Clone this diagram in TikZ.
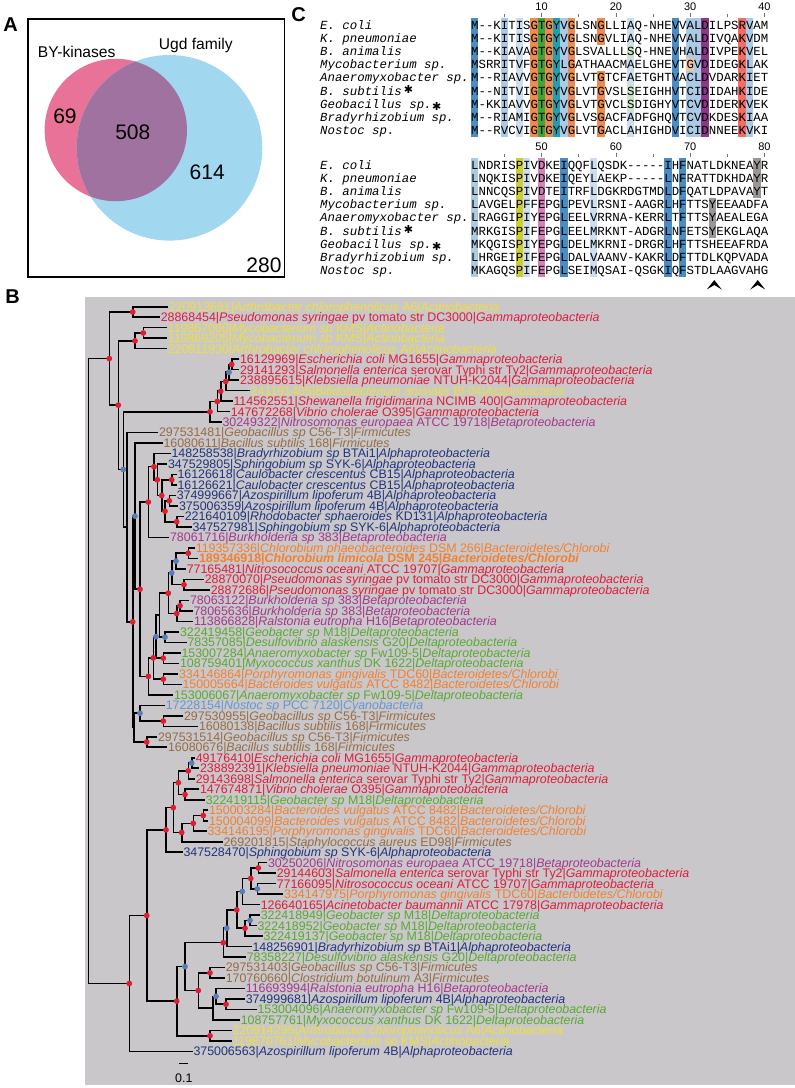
\documentclass[tikz,border=0pt]{standalone}
\usepackage{fontspec}
\setmainfont{Liberation Sans}
\setmonofont{Liberation Mono}
\newfontfamily\dejavu{DejaVu Sans}
\usetikzlibrary{calc}
\pgfdeclarelayer{fg}
\pgfsetlayers{main,fg}
% Venn
\definecolor{cPink}{RGB}{233,114,152}
\definecolor{cSky}{RGB}{162,215,240}
\definecolor{cPurp}{RGB}{160,114,160}
% taxa
\definecolor{cAct}{RGB}{238,224,60}
\definecolor{cGam}{RGB}{222,28,58}
\definecolor{cBet}{RGB}{165,55,140}
\definecolor{cFir}{RGB}{150,108,70}
\definecolor{cAlp}{RGB}{32,52,125}
\definecolor{cBac}{RGB}{242,128,48}
\definecolor{cDel}{RGB}{88,170,48}
\definecolor{cCya}{RGB}{100,150,210}
\definecolor{cTree}{RGB}{201,199,202}
\definecolor{cRdot}{RGB}{222,30,50}
\definecolor{cBdot}{RGB}{90,125,185}
% alignment
\definecolor{hMB}{RGB}{75,140,195}
\definecolor{hLB}{RGB}{170,202,230}
\definecolor{hPB}{RGB}{205,222,240}
\definecolor{hPG}{RGB}{205,228,200}
\definecolor{hOr}{RGB}{236,140,78}
\definecolor{hPe}{RGB}{245,195,160}
\definecolor{hGr}{RGB}{60,165,60}
\definecolor{hTe}{RGB}{30,160,175}
\definecolor{hPu}{RGB}{140,55,135}
\definecolor{hRe}{RGB}{240,110,100}
\definecolor{hYe}{RGB}{205,205,50}
\definecolor{hPk}{RGB}{210,130,185}
\definecolor{hGy}{RGB}{155,150,150}
\newcommand\lbfont{\fontsize{12.4}{12.4}\selectfont}
\newcommand\tleaf[7]{\node[lbl,text=#3] (L#1) at (#2,{306.7+(#1-1)*10.49}) {#4|\textit{#5} #6|\textit{#7}};}
\newcommand\tbr[5]{%
  \coordinate (#1m) at ($(#3)!0.5!(#4)$);
  \coordinate (#1x) at (#2,0);
  \coordinate (#1) at (#1x |- #1m);
  \draw[brl] (#3) -| (#1) |- (#4);
  \begin{pgfonlayer}{fg}\path[#5] (#1) circle[radius=2.9pt];\end{pgfonlayer}}
\newcommand\hlc[5]{\fill[#1] ({471+(#2-1)*7.43},{#3+(#4-1)*13.2}) rectangle ({471+#2*7.43},{#3+#5*13.2});}
\begin{document}
\begin{tikzpicture}[x=1pt,y=-1pt,
  lbl/.style={anchor=west,inner xsep=0.6pt,inner ysep=0pt,font=\lbfont,text height=8.8pt,text depth=0pt},
  brl/.style={line width=1.6pt},
  rd/.style={fill=cRdot},
  bd/.style={fill=cBdot},
  nd/.style={},
  panel/.style={font=\fontsize{20}{20}\selectfont\bfseries,inner sep=0pt},
  seqt/.style={anchor=base west,inner sep=0pt,font=\ttfamily\fontsize{12.38}{12.38}\selectfont},
  namt/.style={anchor=base west,inner sep=0pt,font=\ttfamily\itshape\fontsize{12.38}{12.38}\selectfont},
  rul/.style={anchor=base,inner sep=0pt,font=\fontsize{11}{11}\selectfont},
  rtick/.style={line width=0.6pt,draw=black!55},
  star/.style={inner sep=0pt,font=\dejavu\fontsize{11}{11}\selectfont}]
\useasboundingbox (0,0) rectangle (795,1088);

% ================= Panel A =================
\node[panel] (labA) at (10.5,25) {A};
\fill[cPink] (115.8,130) circle[radius=71.2pt];
\fill[cSky] (169.5,147.8) circle[radius=92.8pt];
\begin{scope}
  \clip (115.8,130) circle[radius=71.2pt];
  \fill[cPurp] (169.5,147.8) circle[radius=92.8pt];
\end{scope}
\draw[line width=1.8pt] (28.3,19) rectangle (284.5,277);
\node[anchor=base,inner sep=0pt,font=\fontsize{15.6}{15.6}\selectfont] (tBY) at (76.7,57.3) {BY-kinases};
\node[anchor=base,inner sep=0pt,font=\fontsize{15.6}{15.6}\selectfont] (tUgd) at (195.8,49.3) {Ugd family};
\node[anchor=base,inner sep=0pt,font=\fontsize{21}{21}\selectfont] (n69) at (65,123.3) {69};
\node[anchor=base,inner sep=0pt,font=\fontsize{21}{21}\selectfont] (n508) at (132.8,139.3) {508};
\node[anchor=base,inner sep=0pt,font=\fontsize{21}{21}\selectfont] (n614) at (207.2,179.3) {614};
\node[anchor=base,inner sep=0pt,font=\fontsize{21}{21}\selectfont] (n280) at (264,272.5) {280};

% ================= Panel C =================
\node[panel] (labC) at (298.5,15) {C};
% highlights, top block (y0 = 18.4)
\hlc{hMB}{1}{18.4}{1}{9}
\hlc{hLB}{5}{18.4}{1}{9}
\hlc{hPB}{7}{18.4}{1}{9}
\hlc{hOr}{9}{18.4}{1}{9}
\hlc{hGr}{10}{18.4}{1}{9}
\hlc{hOr}{11}{18.4}{1}{9}
\hlc{hTe}{12}{18.4}{1}{9}
\hlc{hLB}{13}{18.4}{1}{9}
\hlc{hOr}{14}{18.4}{1}{9}
\hlc{hOr}{18}{18.4}{1}{2}
\hlc{hOr}{18}{18.4}{5}{9}
\hlc{hPB}{22}{18.4}{1}{2}
\hlc{hPG}{22}{18.4}{3}{3}
\hlc{hPB}{22}{18.4}{4}{5}
\hlc{hPG}{22}{18.4}{6}{7}
\hlc{hPB}{22}{18.4}{8}{9}
\hlc{hMB}{28}{18.4}{1}{9}
\hlc{hLB}{30}{18.4}{1}{3}
\hlc{hPe}{30}{18.4}{4}{4}
\hlc{hLB}{30}{18.4}{5}{9}
\hlc{hLB}{31}{18.4}{1}{9}
\hlc{hPu}{32}{18.4}{1}{9}
\hlc{hRe}{37}{18.4}{1}{9}
\hlc{hLB}{38}{18.4}{1}{9}
% highlights, bottom block (y0 = 158.4)
\hlc{hLB}{1}{158.4}{1}{9}
\hlc{hYe}{7}{158.4}{1}{9}
\hlc{hPB}{8}{158.4}{1}{9}
\hlc{hPk}{10}{158.4}{1}{9}
\hlc{hMB}{13}{158.4}{1}{9}
\hlc{hPB}{17}{158.4}{1}{9}
\hlc{hMB}{27}{158.4}{1}{9}
\hlc{hMB}{29}{158.4}{1}{9}
\hlc{hGy}{33}{158.4}{4}{6}
\hlc{hGy}{39}{158.4}{1}{3}
% rulers
\foreach \c in {5,15,25,35} {
  \draw[rtick] ({471+(\c-0.5)*7.43},14) -- ++(0,2.8);
  \draw[rtick] ({471+(\c-0.5)*7.43},154) -- ++(0,2.8);
}
\foreach \c/\na/\nb in {10/10/50,20/20/60,30/30/70,40/40/80} {
  \draw[rtick] ({471+(\c-0.5)*7.43},12.5) -- ++(0,4.3);
  \draw[rtick] ({471+(\c-0.5)*7.43},152.5) -- ++(0,4.3);
  \node[rul] (rt\na) at ({471+(\c-0.5)*7.43},10) {\na};
  \node[rul] (rb\nb) at ({471+(\c-0.5)*7.43},150) {\nb};
}
% names
\foreach \nm [count=\k from 0] in {E. coli,K. pneumoniae,B. animalis,Mycobacterium sp.,Anaeromyxobacter sp.,B. subtilis,Geobacillus sp.,Bradyrhizobium sp.,Nostoc sp.} {
  \node[namt] (nt\k) at (320,{29+\k*13.2}) {\nm};
  \node[namt] (nb\k) at (320,{169+\k*13.2}) {\nm};
}
\node[star] (s1) at (408.5,89.5) {✱};
\node[star] (s2) at (436.8,106) {✱};
\node[star] (s3) at (408.5,229.5) {✱};
\node[star] (s4) at (436.8,246) {✱};
% sequences
\foreach \s [count=\k from 0] in {%
M--KITISGTGYVGLSNGLLIAQ-NHEVVALDILPSRVAM,
M--KITISGTGYVGLSNGVLIAQ-NHEVVALDIVQAKVDM,
M--KIAVAGTGYVGLSVALLLSQ-HNEVHALDIVPEKVEL,
MSRRITVFGTGYLGATHAACMAELGHEVTGVDIDEGKLAK,
M--RIAVVGTGYVGLVTGTCFAETGHTVACLDVDARKIET,
M--NITVIGTGYVGLVTGVSLSEIGHHVTCIDIDAHKIDE,
M-KKIAVVGTGYVGLVTGVCLSDIGHYVTCVDIDERKVEK,
M--RIAMIGTGYVGLVSGACFADFGHQVTCVDKDESKIAA,
M--RVCVIGTGYVGLVTGACLAHIGHDVICIDNNEEKVKI} {
  \node[seqt] (st\k) at (471,{29+\k*13.2}) {\s};
}
\foreach \s [count=\k from 0] in {%
LNDRISPIVDKEIQQFLQSDK-----IHFNATLDKNEAYR,
LNQKISPIVDKEIQEYLAEKP-----LNFRATTDKHDAYR,
LNNCQSPIVDTEITRFLDGKRDGTMDLDFQATLDPAVAYT,
LAVGELPFFEPGLPEVLRSNI-AAGRLHFTTSYEEAADFA,
LRAGGIPIYEPGLEELVRRNA-KERRLTFTTSYAEALEGA,
MRKGISPIFEPGLEELMRKNT-ADGRLNFETSYEKGLAQA,
MKQGISPIYEPGLDELMKRNI-DRGRLHFTTSHEEAFRDA,
LHRGEIPIFEPGLDALVAANV-KAKRLDFTTDLKQPVADA,
MKAGQSPIFEPGLSEIMQSAI-QSGKIQFSTDLAAGVAHG} {
  \node[seqt] (sb\k) at (471,{169+\k*13.2}) {\s};
}
% carets
\fill (714.3,280) -- (721.8,289.5) -- (714.3,285) -- (706.8,289.5) -- cycle;
\fill (757.7,280) -- (765.2,289.5) -- (757.7,285) -- (750.2,289.5) -- cycle;

% ================= Panel B =================
\node[panel] (labB) at (12.5,297) {B};
\fill[cTree] (85,296.7) rectangle (795,1085);

\tleaf{1}{168}{cAct}{220913681}{Arthrobacter chlorophenolicus}{A6}{Actinobacteria}
\tleaf{2}{160}{cGam}{28868454}{Pseudomonas syringae}{pv tomato str DC3000}{Gammaproteobacteria}
\tleaf{3}{167}{cAct}{119867000}{Mycobacterium sp}{KMS}{Actinobacteria}
\tleaf{4}{167}{cAct}{119869205}{Mycobacterium sp}{KMS}{Actinobacteria}
\tleaf{5}{167}{cAct}{220911930}{Arthrobacter chlorophenolicus}{A6}{Actinobacteria}
\tleaf{6}{239.3}{cGam}{16129969}{Escherichia coli}{MG1655}{Gammaproteobacteria}
\tleaf{7}{239.3}{cGam}{29141293}{Salmonella enterica}{serovar Typhi str Ty2}{Gammaproteobacteria}
\tleaf{8}{239.3}{cGam}{238895615}{Klebsiella pneumoniae}{NTUH-K2044}{Gammaproteobacteria}
\tleaf{9}{250}{cAct}{241191405}{Bifidobacterium animalis}{Bl-04}{Actinobacteria}
\tleaf{10}{232.7}{cGam}{114562551}{Shewanella frigidimarina}{NCIMB 400}{Gammaproteobacteria}
\tleaf{11}{230}{cGam}{147672268}{Vibrio cholerae}{O395}{Gammaproteobacteria}
\tleaf{12}{221.7}{cBet}{30249322}{Nitrosomonas europaea}{ATCC 19718}{Betaproteobacteria}
\tleaf{13}{158.3}{cFir}{297531481}{Geobacillus sp}{C56-T3}{Firmicutes}
\tleaf{14}{162.7}{cFir}{16080611}{Bacillus subtilis}{168}{Firmicutes}
\tleaf{15}{170.7}{cAlp}{148258538}{Bradyrhizobium sp}{BTAi1}{Alphaproteobacteria}
\tleaf{16}{167.3}{cAlp}{347529805}{Sphingobium sp}{SYK-6}{Alphaproteobacteria}
\tleaf{17}{176.7}{cAlp}{16126618}{Caulobacter crescentus}{CB15}{Alphaproteobacteria}
\tleaf{18}{176.7}{cAlp}{16126621}{Caulobacter crescentus}{CB15}{Alphaproteobacteria}
\tleaf{19}{176}{cAlp}{374999667}{Azospirillum lipoferum}{4B}{Alphaproteobacteria}
\tleaf{20}{178.3}{cAlp}{375006359}{Azospirillum lipoferum}{4B}{Alphaproteobacteria}
\tleaf{21}{184}{cAlp}{221640109}{Rhodobacter sphaeroides}{KD131}{Alphaproteobacteria}
\tleaf{22}{191.7}{cAlp}{347527981}{Sphingobium sp}{SYK-6}{Alphaproteobacteria}
\tleaf{23}{169.3}{cBet}{78061716}{Burkholderia sp}{383}{Betaproteobacteria}
\tleaf{24}{195}{cBac}{119357336}{Chlorobium phaeobacteroides}{DSM 266}{Bacteroidetes/Chlorobi}
\node[lbl,text=cBac,font=\lbfont\bfseries] (L25) at (198.3,{306.7+24*10.49}) {189346918|\textit{Chlorobium limicola} DSM 245|\textit{Bacteroidetes/Chlorobi}};
\tleaf{26}{186}{cGam}{77165481}{Nitrosococcus oceani}{ATCC 19707}{Gammaproteobacteria}
\tleaf{27}{204}{cGam}{28870070}{Pseudomonas syringae}{pv tomato str DC3000}{Gammaproteobacteria}
\tleaf{28}{210}{cGam}{28872686}{Pseudomonas syringae}{pv tomato str DC3000}{Gammaproteobacteria}
\tleaf{29}{189.3}{cBet}{78063122}{Burkholderia sp}{383}{Betaproteobacteria}
\tleaf{30}{192.7}{cBet}{78065636}{Burkholderia sp}{383}{Betaproteobacteria}
\tleaf{31}{193.3}{cBet}{113866828}{Ralstonia eutropha}{H16}{Betaproteobacteria}
\tleaf{32}{179.3}{cDel}{322419458}{Geobacter sp}{M18}{Deltaproteobacteria}
\tleaf{33}{186.7}{cDel}{78357085}{Desulfovibrio alaskensis}{G20}{Deltaproteobacteria}
\tleaf{34}{180.7}{cDel}{153007284}{Anaeromyxobacter sp}{Fw109-5}{Deltaproteobacteria}
\tleaf{35}{179.3}{cDel}{108759401}{Myxococcus xanthus}{DK 1622}{Deltaproteobacteria}
\tleaf{36}{178.3}{cBac}{334146864}{Porphyromonas gingivalis}{TDC60}{Bacteroidetes/Chlorobi}
\tleaf{37}{181.7}{cBac}{150005664}{Bacteroides vulgatus}{ATCC 8482}{Bacteroidetes/Chlorobi}
\tleaf{38}{173.3}{cDel}{153006067}{Anaeromyxobacter sp}{Fw109-5}{Deltaproteobacteria}
\tleaf{39}{165}{cCya}{17228154}{Nostoc sp}{PCC 7120}{Cyanobacteria}
\tleaf{40}{183.3}{cFir}{297530955}{Geobacillus sp}{C56-T3}{Firmicutes}
\tleaf{41}{198.3}{cFir}{16080138}{Bacillus subtilis}{168}{Firmicutes}
\tleaf{42}{157.3}{cFir}{297531514}{Geobacillus sp}{C56-T3}{Firmicutes}
\tleaf{43}{167.3}{cFir}{16080676}{Bacillus subtilis}{168}{Firmicutes}
\tleaf{44}{195}{cGam}{49176410}{Escherichia coli}{MG1655}{Gammaproteobacteria}
\tleaf{45}{199.3}{cGam}{238892391}{Klebsiella pneumoniae}{NTUH-K2044}{Gammaproteobacteria}
\tleaf{46}{195}{cGam}{29143698}{Salmonella enterica}{serovar Typhi str Ty2}{Gammaproteobacteria}
\tleaf{47}{199.3}{cGam}{147674871}{Vibrio cholerae}{O395}{Gammaproteobacteria}
\tleaf{48}{205}{cDel}{322419115}{Geobacter sp}{M18}{Deltaproteobacteria}
\tleaf{49}{208.3}{cBac}{150003284}{Bacteroides vulgatus}{ATCC 8482}{Bacteroidetes/Chlorobi}
\tleaf{50}{208.3}{cBac}{150004099}{Bacteroides vulgatus}{ATCC 8482}{Bacteroidetes/Chlorobi}
\tleaf{51}{206.7}{cBac}{334146195}{Porphyromonas gingivalis}{TDC60}{Bacteroidetes/Chlorobi}
\tleaf{52}{222.7}{cFir}{269201815}{Staphylococcus aureus}{ED98}{Firmicutes}
\tleaf{53}{182.7}{cAlp}{347528470}{Sphingobium sp}{SYK-6}{Alphaproteobacteria}
\tleaf{54}{267.3}{cBet}{30250206}{Nitrosomonas europaea}{ATCC 19718}{Betaproteobacteria}
\tleaf{55}{276}{cGam}{29144603}{Salmonella enterica}{serovar Typhi str Ty2}{Gammaproteobacteria}
\tleaf{56}{276}{cGam}{77166095}{Nitrosococcus oceani}{ATCC 19707}{Gammaproteobacteria}
\tleaf{57}{283.3}{cBac}{334147975}{Porphyromonas gingivalis}{TDC60}{Bacteroidetes/Chlorobi}
\tleaf{58}{260}{cGam}{126640165}{Acinetobacter baumannii}{ATCC 17978}{Gammaproteobacteria}
\tleaf{59}{260}{cDel}{322418949}{Geobacter sp}{M18}{Deltaproteobacteria}
\tleaf{60}{256.7}{cDel}{322418952}{Geobacter sp}{M18}{Deltaproteobacteria}
\tleaf{61}{262.7}{cDel}{322419137}{Geobacter sp}{M18}{Deltaproteobacteria}
\tleaf{62}{251.7}{cAlp}{148256901}{Bradyrhizobium sp}{BTAi1}{Alphaproteobacteria}
\tleaf{63}{246}{cDel}{78358227}{Desulfovibrio alaskensis}{G20}{Deltaproteobacteria}
\tleaf{64}{225}{cFir}{297531403}{Geobacillus sp}{C56-T3}{Firmicutes}
\tleaf{65}{225}{cFir}{170760660}{Clostridium botulinum}{A3}{Firmicutes}
\tleaf{66}{245}{cBet}{116693994}{Ralstonia eutropha}{H16}{Betaproteobacteria}
\tleaf{67}{245}{cAlp}{374999681}{Azospirillum lipoferum}{4B}{Alphaproteobacteria}
\tleaf{68}{256.7}{cDel}{153004096}{Anaeromyxobacter sp}{Fw109-5}{Deltaproteobacteria}
\tleaf{69}{240}{cDel}{108757761}{Myxococcus xanthus}{DK 1622}{Deltaproteobacteria}
\tleaf{70}{231.7}{cAct}{220914295}{Arthrobacter chlorophenolicus}{A6}{Actinobacteria}
\tleaf{71}{231.7}{cAct}{119870761}{Mycobacterium sp}{KMS}{Actinobacteria}
\tleaf{72}{192.7}{cAlp}{375006563}{Azospirillum lipoferum}{4B}{Alphaproteobacteria}

% ---- upper part of the tree
\tbr{N1}{132.7}{L1.west}{L2.west}{rd}
\tbr{N3}{143.3}{L3.west}{L4.west}{rd}
\tbr{N4}{135}{N3}{L5.west}{rd}
\tbr{g1}{231.7}{L6.west}{L7.west}{rd}
\tbr{g2}{229}{g1}{L8.west}{bd}
\tbr{g3}{225.7}{g2}{L9.west}{rd}
\tbr{g4}{220.7}{g3}{L10.west}{rd}
\tbr{g5}{217.3}{g4}{L11.west}{rd}
\tbr{g6}{210}{g5}{L12.west}{rd}
\tbr{pa}{171.7}{L17.west}{L18.west}{rd}
\tbr{a1}{169.3}{L19.west}{L20.west}{rd}
\tbr{a2}{176.7}{L21.west}{L22.west}{rd}
\tbr{a3}{165}{a1}{a2}{rd}
\tbr{a4}{161.7}{pa}{a3}{rd}
\tbr{a5}{157.3}{L16.west}{a4}{rd}
\tbr{a6}{154}{L15.west}{a5}{rd}
\tbr{a7}{148.3}{a6}{L23.west}{rd}
\tbr{pb}{188.3}{L24.west}{L25.west}{rd}
\tbr{chA}{176}{pb}{L26.west}{bd}
\tbr{pc}{184}{L27.west}{L28.west}{rd}
\tbr{chl}{171.7}{chA}{pc}{bd}
\tbr{pd}{180}{L29.west}{L30.west}{rd}
\tbr{bur}{176.7}{pd}{L31.west}{rd}
\tbr{CB}{168.3}{chl}{bur}{rd}
\tbr{D1}{165}{L32.west}{L33.west}{bd}
\tbr{U}{159.3}{CB}{D1}{nd}
\tbr{D2}{163.3}{L34.west}{L35.west}{rd}
\tbr{W}{156}{U}{D2}{bd}
\tbr{D3}{163.3}{L36.west}{L37.west}{rd}
\tbr{Yn}{153.3}{W}{D3}{rd}
\tbr{Fn}{148.3}{Yn}{L38.west}{rd}
\tbr{Xn}{140}{a7}{Fn}{rd}
\tbr{M4}{135}{L14.west}{Xn}{bd}
\tbr{pe}{163.3}{L40.west}{L41.west}{rd}
\tbr{H1}{140}{L39.west}{pe}{bd}
\tbr{pf}{146.7}{L42.west}{L43.west}{rd}
\tbr{H2}{134}{H1}{pf}{nd}
\tbr{M3}{132.7}{M4}{H2}{rd}
\tbr{M2}{126.7}{L13.west}{M3}{nd}
\tbr{M1}{123.3}{g6}{M2}{bd}
\tbr{N5}{118.3}{N4}{M1}{rd}
\tbr{N2}{109.3}{N1}{N5}{rd}
% ---- lower part of the tree
\tbr{Nb1}{191.7}{L44.west}{L45.west}{bd}
\tbr{Nb2}{188.3}{Nb1}{L46.west}{rd}
\tbr{Nb4}{185}{L47.west}{L48.west}{rd}
\tbr{Nb3}{178.3}{Nb2}{Nb4}{rd}
\tbr{P1}{203.3}{L49.west}{L50.west}{rd}
\tbr{P2}{193.3}{P1}{L51.west}{rd}
\tbr{P3}{181.7}{P2}{L52.west}{rd}
\tbr{Nb5}{173.3}{Nb3}{P3}{rd}
\tbr{B2}{166}{Nb5}{L53.west}{rd}
\tbr{c1}{258.3}{L54.west}{L55.west}{rd}
\tbr{c2}{257.3}{L56.west}{L57.west}{bd}
\tbr{c3}{250.7}{c1}{c2}{rd}
\tbr{c4}{242.3}{c3}{L58.west}{bd}
\tbr{q1}{250}{L59.west}{L60.west}{bd}
\tbr{dd}{245}{q1}{L61.west}{rd}
\tbr{c5}{236.7}{c4}{dd}{rd}
\tbr{c6}{226.7}{c5}{L62.west}{bd}
\tbr{c7}{223.3}{c6}{L63.west}{rd}
\tbr{c8}{210}{L64.west}{L65.west}{rd}
\tbr{e1}{226}{L67.west}{L68.west}{rd}
\tbr{e2}{216}{L66.west}{e1}{bd}
\tbr{c9}{212.7}{e2}{L69.west}{nd}
\tbr{c10}{198.3}{c8}{c9}{rd}
\tbr{c11}{185}{c7}{c10}{bd}
\tbr{c12}{210}{L70.west}{L71.west}{rd}
\tbr{B3}{176.7}{c11}{c12}{rd}
\tbr{B1}{146.7}{B2}{B3}{rd}
\tbr{B0}{129.3}{B1}{L72.west}{rd}
\tbr{root}{88.3}{N2}{B0}{nd}
% scale bar
\coordinate (sbA) at (179.3,1063.3);
\coordinate (sbB) at (188.3,1063.3);
\draw[brl] (sbA) -- (sbB);
\node[inner sep=0pt,font=\lbfont] (sbT) at (183.8,1078) {0.1};
\end{tikzpicture}
\end{document}
